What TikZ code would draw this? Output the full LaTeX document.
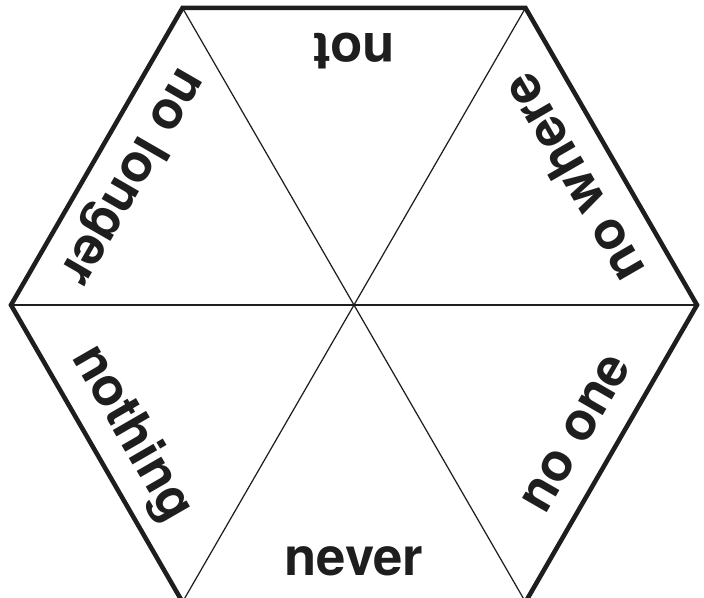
\documentclass[tikz,border=0pt]{standalone}
\usepackage{fontspec}
\setmainfont{TeX Gyre Heros}
\usepackage{tikz}
\usepackage{xcolor}
\definecolor{inkgrey}{RGB}{30,30,30}

\begin{document}
\begin{tikzpicture}[
    x=0.02cm, y=0.02cm,
    rim/.style={line width=2.6pt, inkgrey, line join=miter},
    spoke/.style={line width=0.7pt, inkgrey},
    word/.style={anchor=base, inner sep=0pt, text=inkgrey,
        font=\fontsize{30}{36}\selectfont\bfseries}
]
    \useasboundingbox (-354,-293) rectangle (350,305);
    \clip (-354,-293) rectangle (350,305);

    \coordinate (c) at (0,0);
    \foreach \i in {0,...,5} {
        \coordinate (v\i) at (\i*60:343);
    }
    \foreach \i in {0,...,5} \draw[spoke] (c) -- (v\i);
    \draw[rim] (v0) -- (v1) -- (v2) -- (v3) -- (v4) -- (v5) -- cycle;

    \node[word, rotate=180] (not) at (90:271) {not};
    \node[word, rotate=120] (nowhere) at (30:271) {no where};
    \node[word, rotate=60] (noone) at (-30:271) {no one};
    \node[word] (never) at (-90:271) {never};
    \node[word, rotate=-60] (nothing) at (210:271) {nothing};
    \node[word, rotate=240] (nolonger) at (150:271) {no longer};
\end{tikzpicture}
\end{document}
